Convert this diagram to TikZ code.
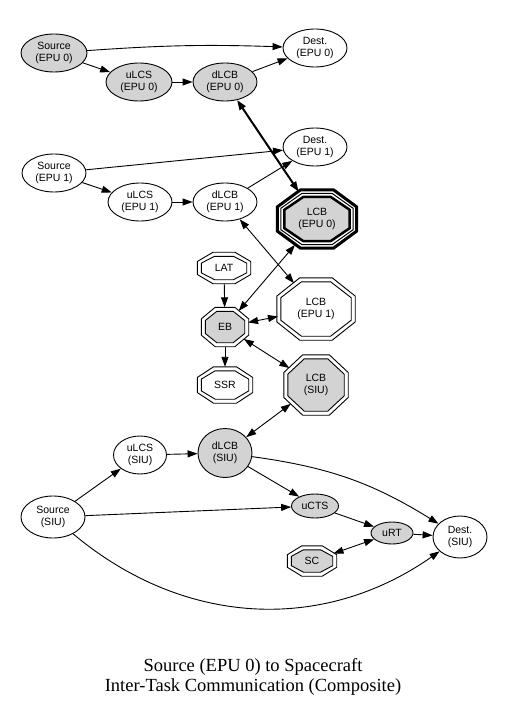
\documentclass[tikz,border=0pt]{standalone}
\usepackage{fontspec}
\setmainfont{Liberation Sans}
\newfontfamily\captionfont{Liberation Serif}
\usepackage{tikz}
\usetikzlibrary{arrows.meta, shapes.geometric, calc, backgrounds}

\definecolor{nodegray}{HTML}{D3D3D3}
\newcommand{\gvfont}{\fontsize{10.5}{12}\selectfont}

% octagon round an (invisible) ellipse node: #1 node, #2 inset, #3 options
\newcommand{\octline}[3]{%
  \draw[#3] let \p1=($(#1.north -| #1.east)+(-#2,-#2)$), \p2=($(#1.south -| #1.west)+(#2,#2)$),
    \p3=($(\p1)!.5!(\p2)$), \n1={0.2071*(\x1-\x2)}, \n2={0.2071*(\y1-\y2)} in
    (\x3-\n1,\y1) -- (\x3+\n1,\y1) -- (\x1,\y3+\n2) -- (\x1,\y3-\n2) -- (\x3+\n1,\y2)
    -- (\x3-\n1,\y2) -- (\x2,\y3-\n2) -- (\x2,\y3+\n2) -- cycle;}

\begin{document}
\begin{tikzpicture}[
    x=1pt, y=1pt,
    wh/.style 2 args={minimum width=#1pt, minimum height=#2pt},
    ell/.style={draw, ellipse, line width=0.9pt, inner sep=0pt, align=center, font=\gvfont},
    grayell/.style={ell, fill=nodegray},
    oct/.style={ellipse, inner sep=0pt, align=center, font=\gvfont},
    link/.style={line width=0.9pt, -{Triangle[length=10pt, width=7pt]}},
    both/.style={line width=0.9pt, {Triangle[length=10pt, width=7pt]}-{Triangle[length=10pt, width=7pt]}},
]
\useasboundingbox (0,0) rectangle (505,-708);

% EPU 0
\node[grayell, wh={66}{38}] (src0) at (54,-53) {Source\\(EPU 0)};
\node[ell, wh={64}{38}] (dst0) at (315,-48) {Dest.\\(EPU 0)};
\node[grayell, wh={66}{38}] (ulcs0) at (139,-82) {uLCS\\(EPU 0)};
\node[grayell, wh={64}{38}] (dlcb0) at (225,-82) {dLCB\\(EPU 0)};

% EPU 1
\node[ell, wh={64}{38}] (src1) at (54,-173) {Source\\(EPU 1)};
\node[ell, wh={64}{38}] (dst1) at (315,-147) {Dest.\\(EPU 1)};
\node[ell, wh={64}{38}] (ulcs1) at (140,-202) {uLCS\\(EPU 1)};
\node[ell, wh={64}{38}] (dlcb1) at (225,-202) {dLCB\\(EPU 1)};

% buses
\node[oct, wh={82}{61}] (lcb0) at (317,-219) {LCB\\(EPU 0)};
\node[oct, wh={53}{31}] (lat) at (224,-268) {LAT};
\node[oct, wh={78}{62}] (lcb1) at (316,-309) {LCB\\(EPU 1)};
\node[oct, wh={47}{39}] (eb) at (225,-327) {EB};
\node[oct, wh={55}{36}] (ssr) at (225,-385) {SSR};
\node[oct, wh={64}{60}] (lcbs) at (316,-385) {LCB\\(SIU)};

% SIU
\node[ell, wh={53}{38}] (ulcss) at (140,-455) {uLCS\\(SIU)};
\node[grayell, wh={54}{49}] (dlcbs) at (225,-453) {dLCB\\(SIU)};
\node[ell, wh={64}{42}] (srcs) at (53,-517) {Source\\(SIU)};
\node[grayell, wh={47}{24}] (ucts) at (315,-506) {uCTS};
\node[grayell, wh={42}{22}] (urt) at (392,-533) {uRT};
\node[ell, wh={54}{42}] (dsts) at (460,-537) {Dest.\\(SIU)};
\node[oct, wh={49}{30}] (sc) at (312,-561) {SC};

\node[font=\captionfont\fontsize{18.5}{20}\selectfont, align=center] (title) at (253,-677)
  {Source (EPU 0) to Spacecraft\\Inter-Task Communication (Composite)};

% octagon outlines
\begin{scope}[on background layer]
\foreach \oc in {lat, lcb1, ssr} {
  \octline{\oc}{0}{line width=0.9pt}
  \octline{\oc}{4}{line width=0.9pt}
}
\foreach \oc in {eb, lcbs, sc} {
  \octline{\oc}{0}{line width=0.9pt}
  \octline{\oc}{4}{line width=0.9pt, fill=nodegray}
}
\octline{lcb0}{1.5}{line width=3pt}
\octline{lcb0}{5}{line width=1pt}
\octline{lcb0}{8.5}{line width=2.5pt, fill=nodegray}
\end{scope}

% edges
\draw[link] (src0) to[bend left=3] (dst0);
\draw[link] (src0) -- (ulcs0);
\draw[link] (ulcs0) -- (dlcb0);
\draw[link] (dlcb0) -- (dst0);
\draw[both, line width=2pt] (dlcb0) -- (lcb0);

\draw[link] (src1) -- (dst1);
\draw[link] (src1) -- (ulcs1);
\draw[link] (ulcs1) -- (dlcb1);
\draw[link] (dlcb1) -- (dst1);
\draw[both] (dlcb1) -- (lcb1);

\draw[both] (lcb0) -- (eb);
\draw[link] (lat) -- (eb);
\draw[link] (eb) -- (ssr);
\draw[both] (eb) -- (lcb1);
\draw[both] (eb) -- (lcbs);
\draw[both] (lcbs) -- (dlcbs);

\draw[link] (srcs) -- (ulcss);
\draw[link] (ulcss) -- (dlcbs);
\draw[link] (dlcbs) -- (ucts);
\draw[link] (dlcbs) to[bend left=12] (dsts);
\draw[link] (srcs) -- (ucts);
\draw[link] (ucts) -- (urt);
\draw[link] (urt) -- (dsts);
\draw[both] (sc) -- (urt);
\draw[link] (srcs) to[out=-40, in=-145] (dsts);
\end{tikzpicture}
\end{document}
